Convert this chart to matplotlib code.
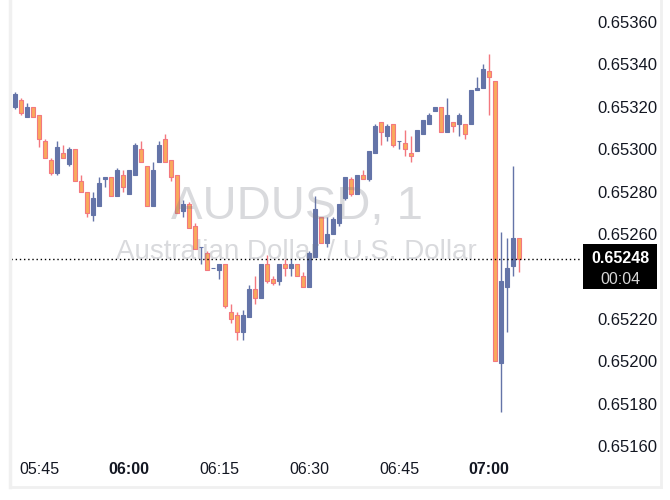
import pandas as pd
import matplotlib.pyplot as plt
import matplotlib.dates as mdates
from matplotlib.lines import Line2D
from matplotlib.patches import Rectangle
import numpy as np

plt.rcParams['font.family'] = ['Liberation Sans', 'DejaVu Sans']

# AUDUSD 1-minute candles, 05:40 -> 07:05
start = "2024-01-01 05:40"
opens = [0.65321, 0.65320, 0.65323, 0.65315, 0.65320, 0.65316, 0.65304, 0.65295, 0.65289, 0.65298,
         0.65293, 0.65300, 0.65285, 0.65280, 0.65269, 0.65273, 0.65286, 0.65287, 0.65278, 0.65288,
         0.65279, 0.65288, 0.65300, 0.65292, 0.65273, 0.65294, 0.65305, 0.65295, 0.65288, 0.65271,
         0.65274, 0.65264, 0.65254, 0.65251, 0.65244, 0.65243, 0.65246, 0.65223, 0.65222, 0.65214,
         0.65221, 0.65234, 0.65230, 0.65246, 0.65239, 0.65238, 0.65246, 0.65244, 0.65246, 0.65240,
         0.65235, 0.65249, 0.65268, 0.65256, 0.65260, 0.65265, 0.65277, 0.65286, 0.65279, 0.65288,
         0.65286, 0.65298, 0.65313, 0.65306, 0.65312, 0.65304, 0.65303, 0.65298, 0.65299, 0.65307,
         0.65312, 0.65318, 0.65320, 0.65308, 0.65313, 0.65312, 0.65312, 0.65312, 0.65328, 0.65329,
         0.65337, 0.65332, 0.65199, 0.65235, 0.65245, 0.65258]
highs = [0.65321, 0.65327, 0.65324, 0.65322, 0.65320, 0.65316, 0.65305, 0.65296, 0.65304, 0.65302,
         0.65301, 0.65300, 0.65288, 0.65280, 0.65280, 0.65287, 0.65287, 0.65287, 0.65291, 0.65290,
         0.65290, 0.65303, 0.65304, 0.65292, 0.65294, 0.65304, 0.65307, 0.65295, 0.65288, 0.65276,
         0.65275, 0.65265, 0.65254, 0.65252, 0.65244, 0.65246, 0.65246, 0.65227, 0.65223, 0.65224,
         0.65236, 0.65240, 0.65246, 0.65250, 0.65240, 0.65246, 0.65248, 0.65248, 0.65246, 0.65242,
         0.65252, 0.65278, 0.65268, 0.65268, 0.65268, 0.65274, 0.65287, 0.65287, 0.65288, 0.65290,
         0.65299, 0.65312, 0.65313, 0.65312, 0.65312, 0.65304, 0.65309, 0.65306, 0.65309, 0.65314,
         0.65317, 0.65320, 0.65320, 0.65324, 0.65313, 0.65317, 0.65312, 0.65328, 0.65334, 0.65340,
         0.65345, 0.65332, 0.65261, 0.65258, 0.65292, 0.65258]
lows = [0.65318, 0.65319, 0.65316, 0.65315, 0.65315, 0.65301, 0.65296, 0.65288, 0.65288, 0.65296,
        0.65292, 0.65285, 0.65280, 0.65268, 0.65266, 0.65273, 0.65282, 0.65278, 0.65278, 0.65280,
        0.65279, 0.65288, 0.65294, 0.65273, 0.65273, 0.65294, 0.65294, 0.65285, 0.65270, 0.65268,
        0.65263, 0.65253, 0.65246, 0.65243, 0.65244, 0.65239, 0.65225, 0.65218, 0.65210, 0.65210,
        0.65221, 0.65227, 0.65230, 0.65237, 0.65236, 0.65236, 0.65240, 0.65240, 0.65240, 0.65235,
        0.65235, 0.65249, 0.65256, 0.65254, 0.65260, 0.65264, 0.65276, 0.65278, 0.65279, 0.65286,
        0.65285, 0.65298, 0.65302, 0.65304, 0.65301, 0.65300, 0.65297, 0.65294, 0.65299, 0.65307,
        0.65312, 0.65318, 0.65308, 0.65308, 0.65308, 0.65306, 0.65305, 0.65312, 0.65328, 0.65329,
        0.65316, 0.65200, 0.65176, 0.65214, 0.65240, 0.65242]
closes = [0.65318, 0.65326, 0.65317, 0.65320, 0.65315, 0.65305, 0.65296, 0.65289, 0.65301, 0.65296,
          0.65300, 0.65285, 0.65280, 0.65270, 0.65277, 0.65284, 0.65287, 0.65278, 0.65290, 0.65282,
          0.65290, 0.65302, 0.65294, 0.65273, 0.65290, 0.65302, 0.65294, 0.65287, 0.65270, 0.65274,
          0.65263, 0.65253, 0.65254, 0.65243, 0.65244, 0.65246, 0.65226, 0.65220, 0.65214, 0.65222,
          0.65234, 0.65230, 0.65246, 0.65238, 0.65237, 0.65246, 0.65244, 0.65246, 0.65240, 0.65235,
          0.65251, 0.65272, 0.65256, 0.65260, 0.65267, 0.65274, 0.65287, 0.65279, 0.65288, 0.65286,
          0.65299, 0.65311, 0.65308, 0.65311, 0.65302, 0.65304, 0.65300, 0.65297, 0.65309, 0.65314,
          0.65316, 0.65320, 0.65308, 0.65316, 0.65311, 0.65316, 0.65307, 0.65328, 0.65329, 0.65338,
          0.65334, 0.65200, 0.65238, 0.65244, 0.65258, 0.65248]
price_ticks = [0.65160, 0.65180, 0.65200, 0.65220, 0.65240, 0.65260, 0.65280, 0.65300, 0.65320, 0.65340, 0.65360]
time_ticks = ["05:45", "06:00", "06:15", "06:30", "06:45", "07:00"]
title = "AUDUSD, 1"
subtitle = "Australian Dollar / U.S. Dollar"
countdown = "00:04"

up_col = "#6474a8"
down_fill = "#f9aa5c"
down_edge = "#f3787f"

times = pd.date_range(start, periods=len(opens), freq="min")
x = mdates.date2num(times)
o = np.array(opens)
h = np.array(highs)
l = np.array(lows)
c = np.array(closes)
up = c >= o
minute = 1 / 1440.0

W, H = 670, 500
fig = plt.figure(figsize=(W / 100, H / 100), dpi=100)
ax = fig.add_axes([11 / W, 45 / H, 571 / W, 450 / H])

# wicks
ax.vlines(x[up], l[up], h[up], color=up_col, lw=1.0, zorder=2)
ax.vlines(x[~up], l[~up], h[~up], color=down_edge, lw=1.0, zorder=2)
# bodies
bot = np.minimum(o, c)
hgt = np.abs(c - o)
ax.bar(x[up], hgt[up], bottom=bot[up], width=0.72 * minute, color=up_col,
       edgecolor=up_col, linewidth=0.8, zorder=3)
ax.bar(x[~up], hgt[~up], bottom=bot[~up], width=0.72 * minute, color=down_fill,
       edgecolor=down_edge, linewidth=0.8, zorder=3)

# last price line
ax.axhline(c[-1], color="black", lw=1.0, linestyle=(0, (1, 2)), zorder=4)

ax.set_xlim(x[0] + (2 / 6) * minute, x[0] + 95.5 * minute)
ax.set_ylim(0.651558, 0.653680)

# tick labels hidden behind the last-price box are left blank
ax.yaxis.tick_right()
ax.set_yticks(price_ticks)
ax.set_yticklabels(["" if abs(p - c[-1]) < 0.0001 else f"{p:.5f}" for p in price_ticks])
ax.tick_params(axis="y", length=0, pad=11, labelsize=12, labelcolor="#131722")

tick_x = mdates.date2num(pd.to_datetime(["2024-01-01 " + t for t in time_ticks]))
ax.set_xticks(tick_x)
ax.set_xticklabels(time_ticks)
ax.tick_params(axis="x", length=0, pad=5, labelsize=11.5, labelcolor="#131722")
for lab in ax.get_xticklabels():
    if lab.get_text().endswith(":00"):
        lab.set_fontweight("bold")

for s in ax.spines.values():
    s.set_visible(False)

# watermark
ax.text(0.5, 0.551, title, transform=ax.transAxes, ha="center", va="center",
        fontsize=34, color="#787b86", alpha=0.28, zorder=5)
ax.text(0.5, 0.451, subtitle, transform=ax.transAxes, ha="center", va="center",
        fontsize=20, color="#787b86", alpha=0.28, zorder=5)

# price label box on the axis
yp = ax.transData.transform((0, c[-1]))[1]
box = Rectangle((583 / W, (yp - 30) / H), 74 / W, 45 / H, transform=fig.transFigure,
                facecolor="black", edgecolor="none", zorder=6)
fig.add_artist(box)
fig.text(620 / W, (yp + 1) / H, f"{c[-1]:.5f}", ha="center", va="center", color="white",
         fontsize=11.5, fontweight="bold", zorder=7)
fig.text(620 / W, (yp - 20) / H, countdown, ha="center", va="center", color="#d6d6d6",
         fontsize=11.5, zorder=7)

# widget frame
fig.add_artist(Line2D([9.5 / W, 9.5 / W], [13 / H, 1], color="#f0f0f0", lw=2.5))
fig.add_artist(Line2D([9.5 / W, 661 / W], [13 / H, 13 / H], color="#f0f0f0", lw=2.0))
fig.add_artist(Line2D([661 / W, 661 / W], [13 / H, 1], color="#f0f0f0", lw=2.0))

plt.savefig("out.png", dpi=100)
